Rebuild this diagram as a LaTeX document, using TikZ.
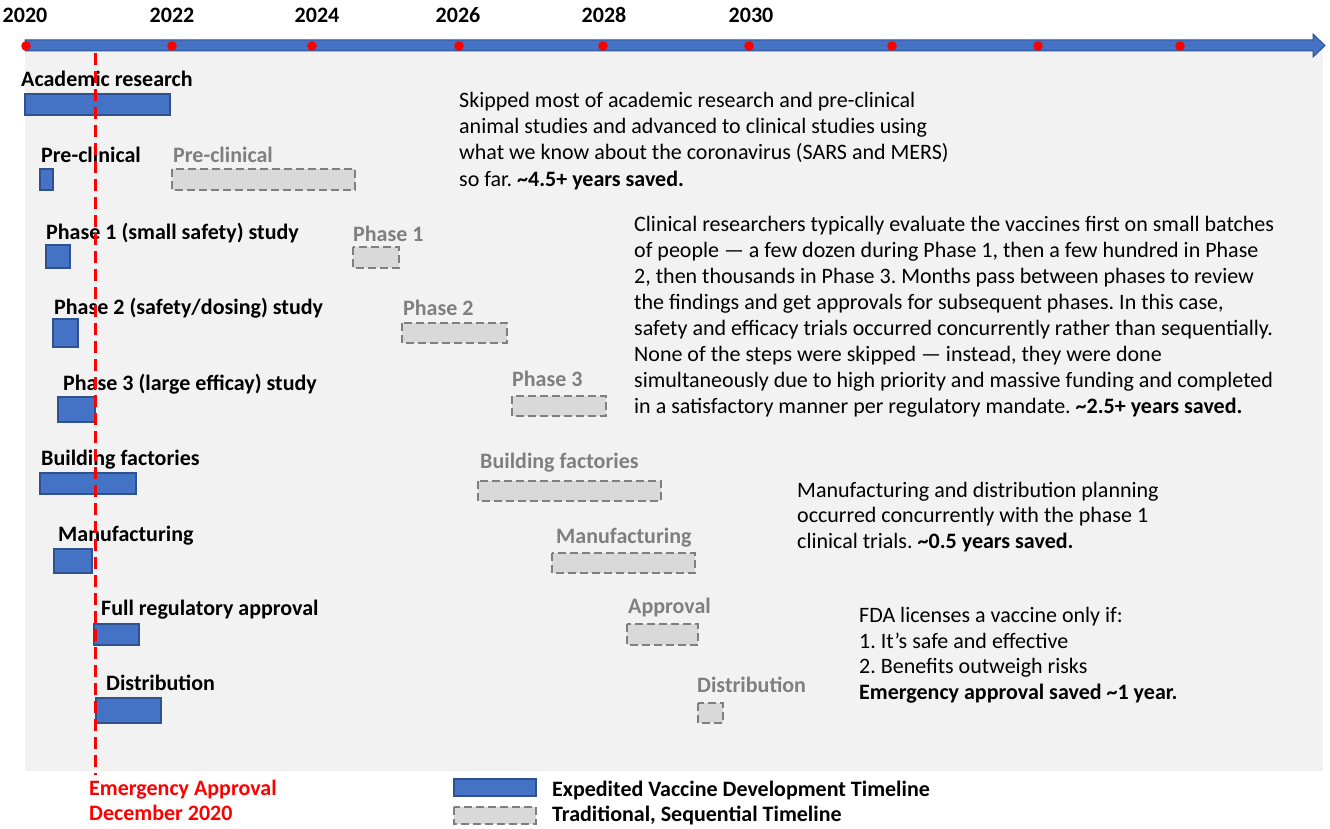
\documentclass[tikz,border=0pt]{standalone}
\usepackage{fontspec}
\setmainfont{Carlito}
\frenchspacing

\definecolor{expblue}{HTML}{4472C4}
\definecolor{expedge}{HTML}{2F528F}
\definecolor{tradgray}{HTML}{D9D9D9}
\definecolor{tradedge}{HTML}{7F7F7F}
\definecolor{panel}{HTML}{F2F2F2}

\tikzset{
  expbar/.style={fill=expblue, draw=expedge, line width=1.5pt},
  tradbar/.style={fill=tradgray, draw=tradedge, line width=1.5pt, dash pattern=on 8pt off 4pt},
  task/.style={anchor=base west, inner sep=0pt, font=\fontsize{22}{25}\selectfont\bfseries},
  tradtask/.style={task, text=tradedge},
  yearlabel/.style={anchor=base, inner sep=0pt, font=\fontsize{22}{24}\selectfont\bfseries},
  note/.style={anchor=base west, inner sep=0pt, align=left, font=\fontsize{22}{26}\selectfont},
  shortnote/.style={note, font=\fontsize{22}{25.5}\selectfont},
}

\begin{document}
\begin{tikzpicture}[x=1pt, y=-1pt]
        \useasboundingbox (0,0) rectangle (1330,829);
        \fill[panel] (25,45) rectangle (1323,771);

        % time axis
        \draw[fill=expblue, draw=expedge, line width=1pt]
          (25,40) -- (1313,40) -- (1313,34) -- (1325,45.5) -- (1313,57) -- (1313,51) -- (25,51) -- cycle;
        \foreach \x in {26,172,312,459,603,749,892,1038,1180}
          \fill[red] (\x,46) circle (4.8);

        \node[yearlabel] (y2020) at (25,23) {2020};
        \node[yearlabel] (y2022) at (172,23) {2022};
        \node[yearlabel] (y2024) at (317,23) {2024};
        \node[yearlabel] (y2026) at (458,23) {2026};
        \node[yearlabel] (y2028) at (604,23) {2028};
        \node[yearlabel] (y2030) at (751,23) {2030};

        % expedited timeline
        \node[task] (academic) at (21,87) {Academic research};
        \draw[expbar] (25,94) rectangle (170,115);
        \node[task] (preclin) at (41,163) {Pre-clinical};
        \draw[expbar] (40,169) rectangle (53,190);
        \node[task] (phaseone) at (46,240) {Phase 1 (small safety) study};
        \draw[expbar] (46,245) rectangle (70,268);
        \node[task] (phasetwo) at (54,314) {Phase 2 (safety/dosing) study};
        \draw[expbar] (53,319) rectangle (78,347);
        \node[task] (phasethree) at (63,390) {Phase 3 (large efficay) study};
        \draw[expbar] (58,397) rectangle (95,422);
        \node[task] (factories) at (41,465) {Building factories};
        \draw[expbar] (40,473) rectangle (136,494);
        \node[task] (manuf) at (58,541) {Manufacturing};
        \draw[expbar] (54,549) rectangle (92,573);
        \node[task] (approval) at (101,615) {Full regulatory approval};
        \draw[expbar] (94,624) rectangle (139,645);
        \node[task] (distrib) at (106,690) {Distribution};
        \draw[expbar] (96,698) rectangle (161,723);

        % traditional timeline
        \node[tradtask] (tpreclin) at (173,163) {Pre-clinical};
        \draw[tradbar] (172,169) rectangle (355,190);
        \node[tradtask] (tphaseone) at (353,241) {Phase 1};
        \draw[tradbar] (353,247) rectangle (399,268);
        \node[tradtask] (tphasetwo) at (403,315) {Phase 2};
        \draw[tradbar] (402,323) rectangle (507,343);
        \node[tradtask] (tphasethree) at (512,386) {Phase 3};
        \draw[tradbar] (512,396) rectangle (606,416);
        \node[tradtask] (tfactories) at (480,468) {Building factories};
        \draw[tradbar] (478,481) rectangle (661,501);
        \node[tradtask] (tmanuf) at (556,543) {Manufacturing};
        \draw[tradbar] (552,553) rectangle (695,573);
        \node[tradtask] (tapproval) at (628,613) {Approval};
        \draw[tradbar] (627,624) rectangle (698,645);
        \node[tradtask] (tdistrib) at (697,692) {Distribution};
        \draw[tradbar] (698,703) rectangle (723,723);

        % notes (base anchor sits on the last line)
        \node[note] (skipnote) at (459,186) {Skipped most of academic research and pre-clinical\\
          animal studies and advanced to clinical studies using\\
          what we know about the coronavirus (SARS and MERS)\\
          so far. \textbf{\textasciitilde4.5+ years saved.}};
        \node[note] (clinnote) at (634,413) {Clinical researchers typically evaluate the vaccines first on small batches\\
          of people — a few dozen during Phase 1, then a few hundred in Phase\\
          2, then thousands in Phase 3. Months pass between phases to review\\
          the findings and get approvals for subsequent phases. In this case,\\
          safety and efficacy trials occurred concurrently rather than sequentially.\\
          None of the steps were skipped — instead, they were done\\
          simultaneously due to high priority and massive funding and completed\\
          in a satisfactory manner per regulatory mandate. \textbf{\textasciitilde2.5+ years saved.}};
        \node[shortnote] (manufnote) at (797,548) {Manufacturing and distribution planning\\
          occurred concurrently with the phase 1\\
          clinical trials. \textbf{\textasciitilde0.5 years saved.}};
        \node[shortnote] (fdanote) at (859,699) {FDA licenses a vaccine only if:\\
          1. It’s safe and effective\\
          2. Benefits outweigh risks\\
          \textbf{Emergency approval saved \textasciitilde1 year.}};

        % emergency approval line
        \coordinate (emtop) at (95,53);
        \coordinate (embot) at (95,775);
        \draw[red, line width=3pt, dash pattern=on 12pt off 6pt] (emtop) -- (embot);
        \node[task, text=red, align=left] (emlabel) at (89,820) {Emergency Approval\\December 2020};

        % legend
        \draw[expbar] (454,779) rectangle (536,796);
        \draw[tradbar] (454,807) rectangle (536,824);
        \node[task] (expkey) at (552,796) {Expedited Vaccine Development Timeline};
        \node[task] (tradkey) at (552,821) {Traditional, Sequential Timeline};
      \end{tikzpicture}
\end{document}
